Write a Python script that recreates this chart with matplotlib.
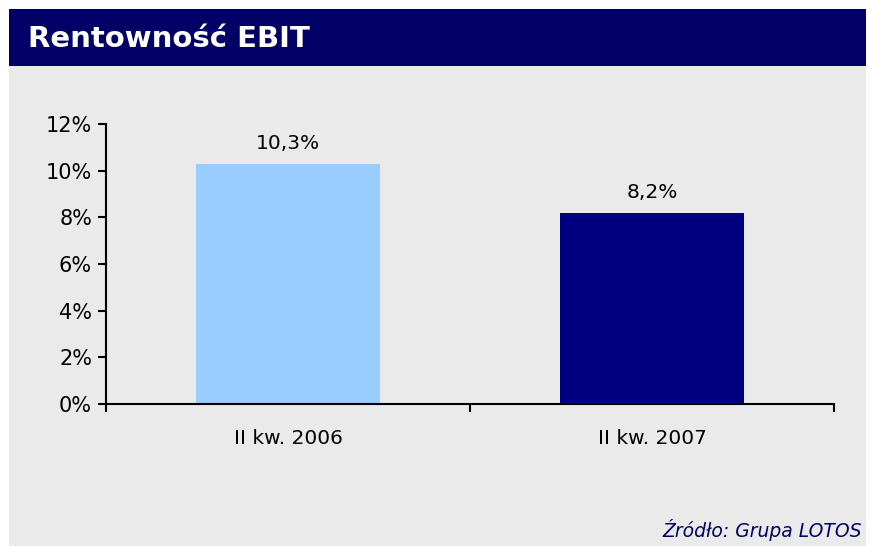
import matplotlib.pyplot as plt
import matplotlib.patches as patches
from matplotlib.ticker import FuncFormatter

categories = ['II kw. 2006', 'II kw. 2007']
values = [10.3, 8.2]
value_labels = ['10,3%', '8,2%']
bar_colors = ['#99CCFF', '#000080']

W, H = 870, 548
fig = plt.figure(figsize=(W / 100, H / 100), dpi=100)
fig.patch.set_facecolor('white')

def px(x0, y0, x1, y1):
    # pixel box (top-left origin) -> figure fraction rect
    return [x0 / W, 1 - y1 / H, (x1 - x0) / W, (y1 - y0) / H]

r = px(9, 9, 866, 546)
fig.patches.append(patches.Rectangle((r[0], r[1]), r[2], r[3], transform=fig.transFigure,
                                     facecolor='#EAEAEA', edgecolor='none', zorder=-2))
r = px(9, 9, 866, 66)
fig.patches.append(patches.Rectangle((r[0], r[1]), r[2], r[3], transform=fig.transFigure,
                                     facecolor='#000066', edgecolor='none', zorder=-1))

fig.text(28 / W, 1 - 39 / H, 'Rentowność EBIT', color='white', fontsize=21,
         fontweight='bold', va='center', ha='left', family='DejaVu Sans')
fig.text(862 / W, 1 - 530 / H, 'Źródło: Grupa LOTOS', color='#000066', fontsize=13.5,
         style='italic', va='center', ha='right')

ax = fig.add_axes(px(106, 124, 834, 404))
ax.set_zorder(1)
ax.set_facecolor('none')
x = range(len(categories))
ax.bar(x, values, width=0.505, color=bar_colors, zorder=2)
for xi, v, lab in zip(x, values, value_labels):
    ax.text(xi, v + 0.45, lab, ha='center', va='bottom', fontsize=14.5)

ax.set_xlim(-0.5, 1.5)
ax.set_ylim(0, 12)
ax.set_yticks(range(0, 13, 2))
ax.yaxis.set_major_formatter(FuncFormatter(lambda v, p: f'{int(v)}%'))
ax.set_xticks([-0.5, 0.5, 1.5])
ax.set_xticklabels([])
ax.set_xticks(list(x), minor=True)
ax.set_xticklabels(categories, minor=True, fontsize=14.5)
ax.tick_params(axis='x', which='minor', length=0, pad=18)
ax.tick_params(axis='x', which='major', length=6, width=1.5, direction='out')
ax.tick_params(axis='y', length=6, width=1.5, labelsize=15, pad=4)
for s in ['top', 'right']:
    ax.spines[s].set_visible(False)
for s in ['left', 'bottom']:
    ax.spines[s].set_linewidth(1.5)

fig.savefig('out.png', dpi=100, facecolor='white')
